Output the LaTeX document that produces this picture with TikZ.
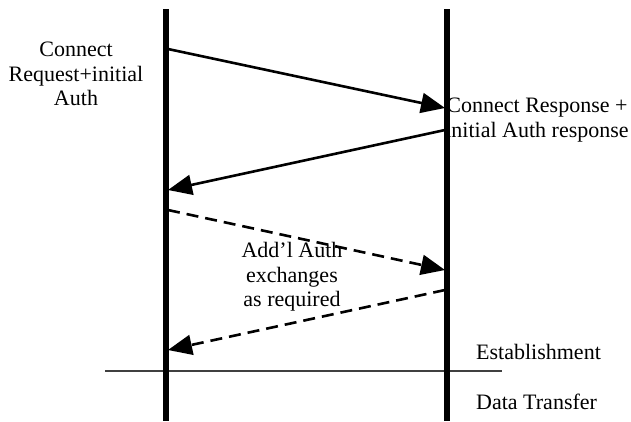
\documentclass[tikz,border=0pt]{standalone}
\usepackage{fontspec}
\setmainfont{Liberation Serif}
\usetikzlibrary{arrows.meta}
\begin{document}
\begin{tikzpicture}[
		x={(1pt,0pt)}, y={(0pt,-1pt)},
		vita/.style={line width=6pt, black},
		msg/.style={line width=2.6pt, black,
			-{Triangle[length=24pt,width=20pt]}},
		msgtratt/.style={msg, dash pattern=on 12pt off 7pt},
		fase/.style={line width=1.4pt, black!75},
		etich/.style={font=\fontsize{22}{24.5}\selectfont, align=center, inner sep=0pt},
		fasetich/.style={font=\fontsize{22}{24.5}\selectfont, anchor=west, inner sep=0pt},
		]
		\useasboundingbox (0,0) rectangle (631,421);
		
		%% linee di vita ------------------------------------
		\coordinate (Atop) at (166,9);
		\coordinate (Abot) at (166,421);
		\coordinate (Btop) at (447,9);
		\coordinate (Bbot) at (447,421);
		
		%% punti dei messaggi
		\coordinate (a1) at (168,49);  \coordinate (b1) at (445,108);
		\coordinate (b2) at (445,130); \coordinate (a2) at (168,190);
		\coordinate (a3) at (168,210); \coordinate (b3) at (445,270);
		\coordinate (b4) at (445,290); \coordinate (a4) at (168,350);
		
		%% separazione delle fasi
		\coordinate (sepL) at (105,371);
		\coordinate (sepR) at (502,371);
		\draw[fase](sepL)--(sepR);
		
		\draw[vita](Atop)--(Abot);
		\draw[vita](Btop)--(Bbot);
		
		%% messaggi
		\draw[msg](a1)--(b1);
		\draw[msg](b2)--(a2);
		\draw[msgtratt](a3)--(b3);
		\draw[msgtratt](b4)--(a4);
		
		%% etichette
		\node[etich] (req) at (76,74) {Connect\\Request+initial\\Auth};
		\node[etich] (resp) at (537,120) {Connect Response +\\initial Auth response};
		\node[etich] (add) at (292,277) {Add'l Auth\\exchanges\\as required};
		\node[fasetich] (est) at (476,352) {Establishment};
		\node[fasetich] (dat) at (476,402) {Data Transfer};
		
\end{tikzpicture}
\end{document}
